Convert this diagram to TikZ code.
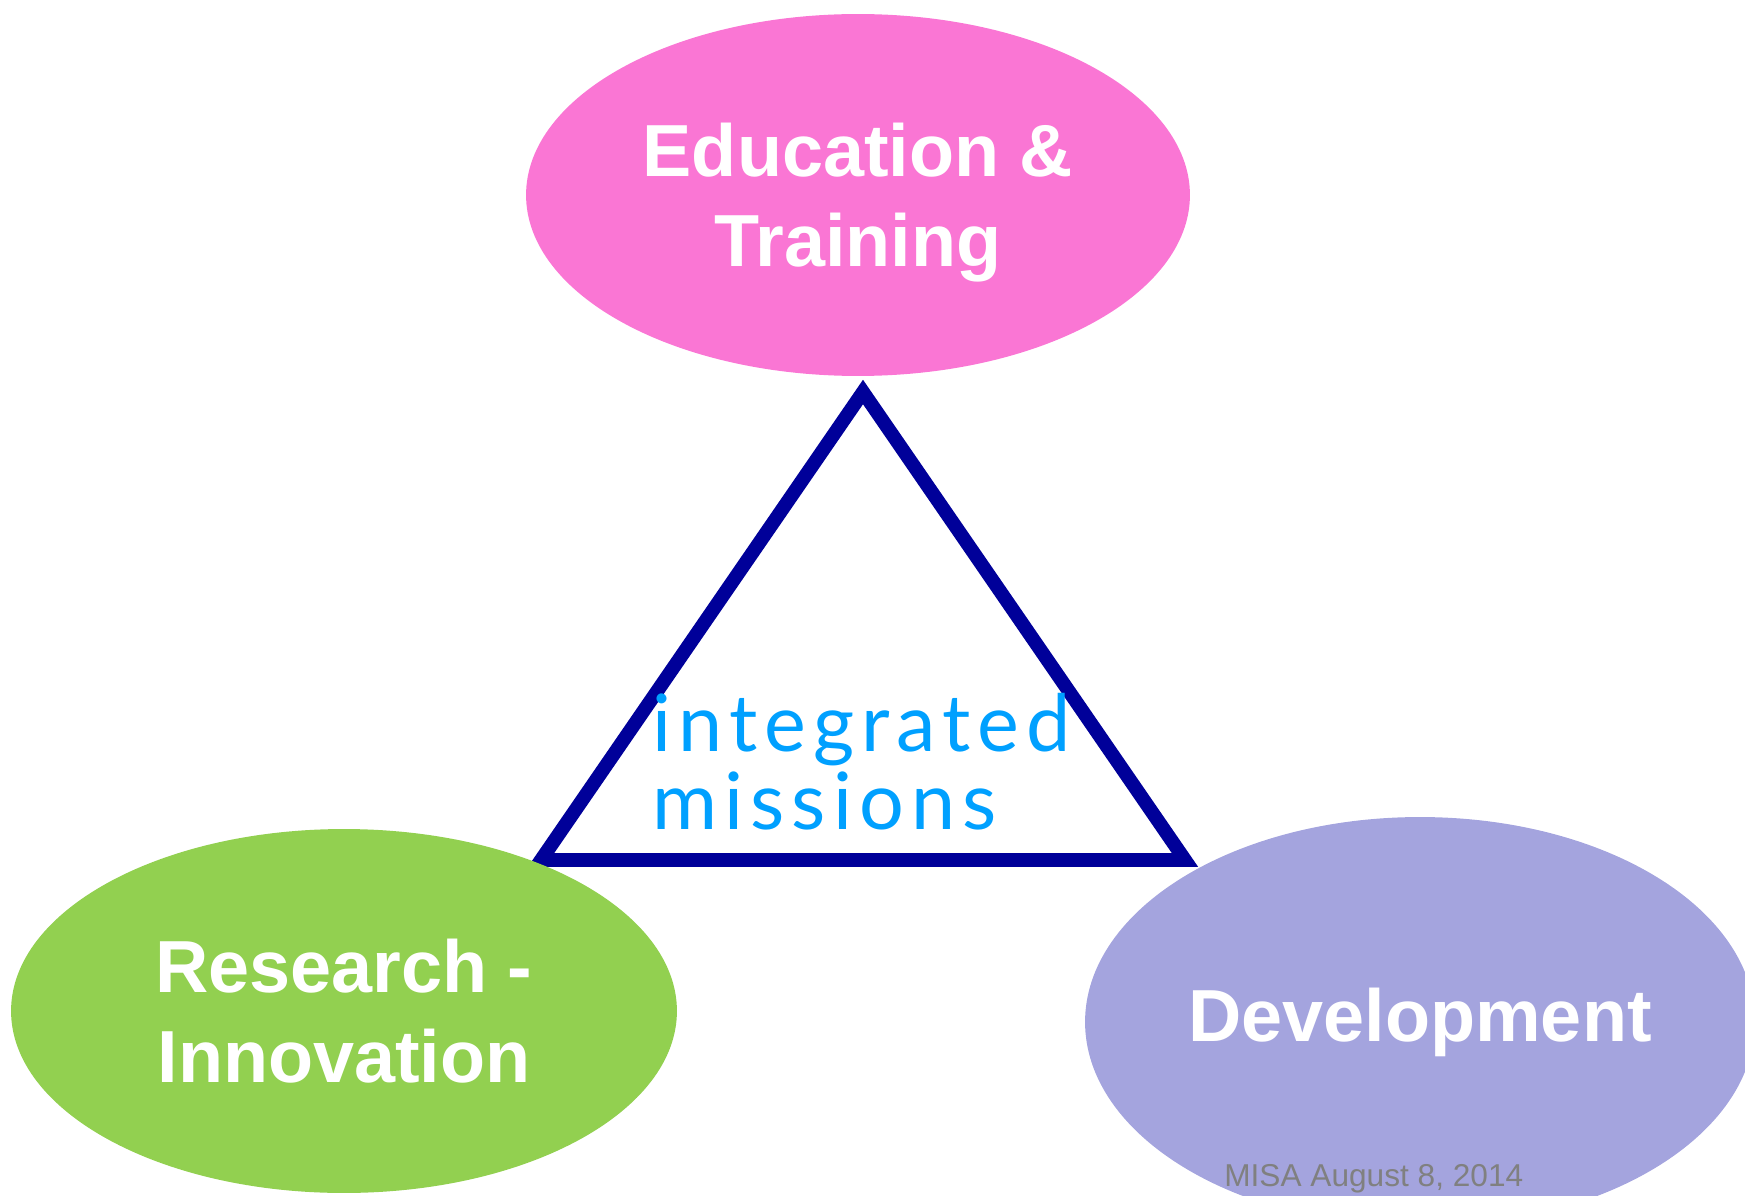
\documentclass[tikz,border=0pt]{standalone}
\usepackage{fontspec}
\setmainfont{Liberation Sans}
\newfontfamily\missionfont[LetterSpace=9]{Lato}
\usetikzlibrary{shapes.geometric}
\definecolor{edupink}{RGB}{250,118,212}
\definecolor{resgreen}{RGB}{146,208,80}
\definecolor{devpurple}{RGB}{164,164,222}
\definecolor{tridark}{RGB}{0,0,153}
\definecolor{misblue}{RGB}{0,160,255}

\begin{document}
\begin{tikzpicture}[x=0.02cm,y=-0.02cm,
  pillar/.style={ellipse,inner sep=0pt,text=white,align=center,
                 font=\bfseries\fontsize{42}{51}\selectfont},
  triangle/.style={draw=tridark,line width=7.9pt,line join=miter}
]
\useasboundingbox (0,0) rectangle (1745,1196);
\clip (0,0) rectangle (1745,1196);

\coordinate (apex)  at (863,392);
\coordinate (left)  at (541,860);
\coordinate (right) at (1185,860);
\draw[triangle] (apex) -- (right) -- (left) -- cycle;

\node[anchor=base west,inner sep=0pt,align=left,text=misblue,
      font=\missionfont\fontsize{45}{44}\selectfont] (integ) at (652,829) {integrated\\missions};

\node[pillar,fill=edupink,minimum width=13.28cm,minimum height=7.24cm,text depth=0pt] (edu) at (858,195) {Education \&\\Training};
\node[pillar,fill=resgreen,minimum width=13.32cm,minimum height=7.28cm] (res) at (344,1011) {Research -\\Innovation};
\node[pillar,fill=devpurple,minimum width=13.4cm,minimum height=8.2cm] (dev) at (1420,1022) {Development};

\node[anchor=base west,inner sep=0pt,text=gray,font=\fontsize{18}{21}\selectfont] (date) at (1224,1186) {MISA August 8, 2014};
\end{tikzpicture}
\end{document}
